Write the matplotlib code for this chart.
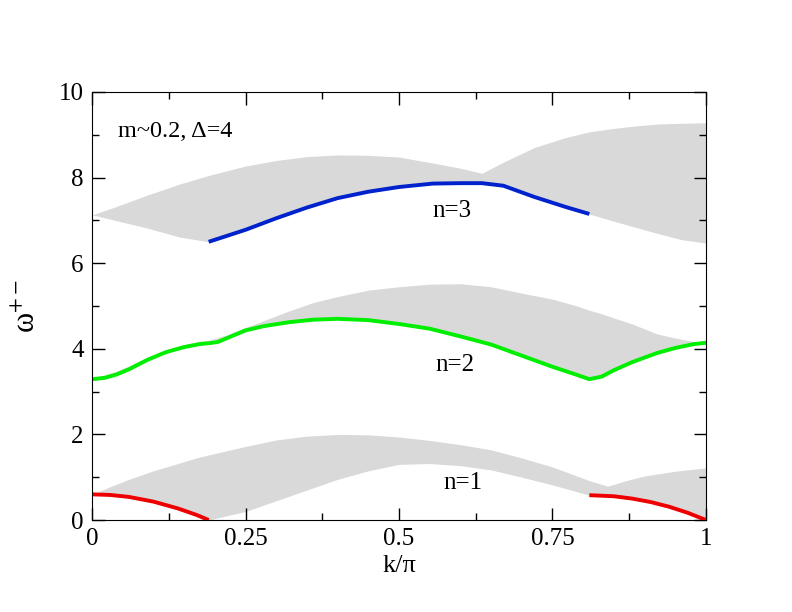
import numpy as np
import matplotlib
matplotlib.use("Agg")
import matplotlib.pyplot as plt
from matplotlib.ticker import MultipleLocator

plt.rcParams['font.family'] = ['Liberation Serif', 'DejaVu Serif']
plt.rcParams['mathtext.fontset'] = 'stix'

# continuum n=1 (grey band)
k1 = [0, 0.03, 0.06, 0.1, 0.14, 0.17, 0.19, 0.25, 0.3, 0.35, 0.4, 0.45, 0.5,
      0.55, 0.6, 0.65, 0.7, 0.75, 0.81, 0.84, 0.87, 0.9, 0.95, 1.0]
up1 = [0.6, 0.78, 0.95, 1.15, 1.32, 1.45, 1.52, 1.72, 1.87, 1.96, 2.0, 1.99, 1.94,
       1.86, 1.76, 1.64, 1.45, 1.24, 0.92, 0.79, 0.92, 1.03, 1.14, 1.22]
lo1 = [0.6, 0.585, 0.54, 0.43, 0.27, 0.12, 0.0, 0.2, 0.45, 0.7, 0.95, 1.15, 1.3,
       1.32, 1.27, 1.17, 1.0, 0.82, 0.58, 0.565, 0.52, 0.45, 0.28, 0.0]

# continuum n=2
k2 = [0, 0.02, 0.04, 0.06, 0.09, 0.12, 0.15, 0.175, 0.19, 0.205, 0.22, 0.25, 0.28,
      0.32, 0.36, 0.4, 0.45, 0.5, 0.55, 0.6, 0.65, 0.7, 0.75, 0.79, 0.81, 0.83,
      0.85, 0.88, 0.92, 0.95, 0.98, 1.0]
up2 = [3.33, 3.38, 3.48, 3.6, 3.8, 3.97, 4.1, 4.17, 4.2, 4.26, 4.33, 4.5, 4.66,
       4.88, 5.08, 5.22, 5.37, 5.45, 5.51, 5.52, 5.45, 5.3, 5.16, 5.0, 4.9, 4.82,
       4.72, 4.58, 4.35, 4.25, 4.17, 4.14]
green = [3.29, 3.32, 3.4, 3.52, 3.74, 3.92, 4.04, 4.11, 4.13, 4.16, 4.25, 4.43, 4.53,
         4.62, 4.68, 4.70, 4.67, 4.58, 4.47, 4.29, 4.1, 3.84, 3.58, 3.39, 3.29, 3.35,
         3.5, 3.69, 3.9, 4.02, 4.11, 4.14]

# continuum n=3
k3 = [0, 0.035, 0.09, 0.143, 0.19, 0.25, 0.3, 0.35, 0.4, 0.45, 0.5, 0.555, 0.6,
      0.635, 0.67, 0.72, 0.77, 0.81, 0.85, 0.88, 0.92, 0.96, 1.0]
up3 = [7.13, 7.3, 7.59, 7.85, 8.05, 8.27, 8.4, 8.49, 8.53, 8.52, 8.48, 8.34, 8.22,
       8.1, 8.36, 8.7, 8.93, 9.07, 9.15, 9.2, 9.25, 9.27, 9.28]
lo3 = [7.13, 7.01, 6.82, 6.61, 6.5, 6.78, 7.05, 7.3, 7.52, 7.67, 7.78, 7.86, 7.87,
       7.87, 7.81, 7.55, 7.32, 7.15, 6.98, 6.86, 6.7, 6.55, 6.47]

# bound states
red_k1 = [0, 0.03, 0.06, 0.1, 0.14, 0.17, 0.19]
red_w1 = [0.6, 0.585, 0.54, 0.43, 0.27, 0.12, 0.0]
red_k2 = [0.81, 0.85, 0.88, 0.91, 0.94, 0.97, 1.0]
red_w2 = [0.58, 0.555, 0.5, 0.42, 0.31, 0.17, 0.0]
blue_k = [0.19, 0.25, 0.3, 0.35, 0.4, 0.45, 0.5, 0.555, 0.6, 0.635, 0.67, 0.72, 0.77, 0.81]
blue_w = [6.5, 6.78, 7.05, 7.3, 7.52, 7.67, 7.78, 7.86, 7.87, 7.87, 7.81, 7.55, 7.32, 7.15]

fig = plt.figure(figsize=(7.92, 6.12), dpi=100)
ax = fig.add_axes([0.1162, 0.1503, 0.7752, 0.6994])

grey = '#d9d9d9'
ax.fill_between(k1, lo1, up1, color=grey, lw=0)
ax.fill_between(k2, green, up2, color=grey, lw=0)
ax.fill_between(k3, lo3, up3, color=grey, lw=0)

ax.plot(red_k1, red_w1, color='#ee0000', lw=2.8, solid_capstyle='butt')
ax.plot(red_k2, red_w2, color='#ee0000', lw=2.8, solid_capstyle='butt')
ax.plot(k2, green, color='#00ee00', lw=2.8, solid_capstyle='butt')
ax.plot(blue_k, blue_w, color='#0022cc', lw=2.8, solid_capstyle='butt')

ax.text(0.042, 9.07, 'm~0.2, \u0394=4', fontsize=17.5, va='center', ha='left')
ax.text(0.586, 7.22, 'n=3', fontsize=18, va='center', ha='center')
ax.text(0.591, 3.62, 'n=2', fontsize=18, va='center', ha='center')
ax.text(0.604, 0.86, 'n=1', fontsize=18, va='center', ha='center')

ax.set_xlim(0, 1)
ax.set_ylim(0, 10)
ax.set_xticks([0, 0.25, 0.5, 0.75, 1])
ax.set_xticklabels(['0', '0.25', '0.5', '0.75', '1'])
ax.set_yticks([0, 2, 4, 6, 8, 10])
ax.xaxis.set_minor_locator(MultipleLocator(0.125))
ax.yaxis.set_minor_locator(MultipleLocator(1))
ax.tick_params(which='both', direction='in', top=True, right=True, labelsize=18, width=1)
ax.tick_params(which='major', length=9)
ax.tick_params(which='minor', length=5)
ax.tick_params(axis='x', pad=6)
ax.tick_params(axis='y', pad=6)

ax.set_xlabel('k/\u03c0', fontsize=19, labelpad=3)
ax.set_ylabel('\u03c9$^{+-}$', fontsize=22, labelpad=12)

fig.savefig('out.png', dpi=100)
